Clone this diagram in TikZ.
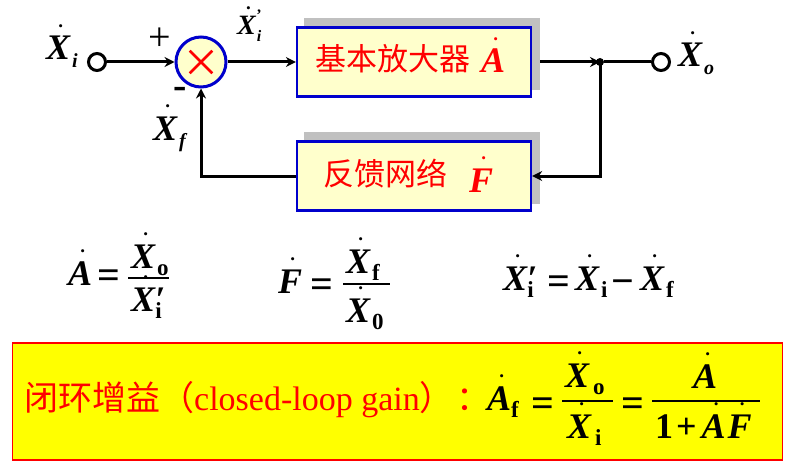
\documentclass[tikz,border=0pt]{standalone}
\usepackage{fontspec}
\setmainfont{Liberation Serif}
\newfontfamily\cjk{Noto Sans CJK SC}
\usetikzlibrary{arrows.meta, shapes.misc}
\definecolor{boxblue}{RGB}{0,0,204}
\definecolor{boxfill}{RGB}{255,255,204}
\definecolor{shadowgray}{RGB}{192,192,192}
\definecolor{gainyellow}{RGB}{255,255,0}
\definecolor{signred}{RGB}{255,0,0}

% dotted variable and lowered index
\newcommand{\dotv}[1]{\ooalign{#1\cr\hidewidth\raisebox{0.9em}{\hspace{0.14em}\fontsize{19}{19}\selectfont\upshape .}\hidewidth\cr}}
\newcommand{\subv}[1]{\raisebox{-0.22em}{\fontsize{20}{20}\selectfont #1}}
\newcommand{\subu}[1]{\raisebox{-0.2em}{\fontsize{23}{23}\selectfont\upshape #1}}
\newcommand{\primev}{\raisebox{-0.02em}{\fontsize{36}{36}\selectfont\upshape\itshape\char"2032}}

\tikzset{
  var/.style={anchor=base west, inner sep=0pt, font=\fontsize{36}{36}\selectfont\bfseries\itshape},
  smallvar/.style={var, font=\fontsize{28}{28}\selectfont\bfseries\itshape},
  redvar/.style={var, text=signred},
  eqsign/.style={anchor=base west, inner sep=0pt, font=\fontsize{40}{40}\selectfont\bfseries},
  blocklabel/.style={anchor=base west, inner sep=0pt, text=signred, font=\fontsize{31}{31}\selectfont\cjk},
  blockbox/.style={draw=boxblue, fill=boxfill, line width=2.2pt, inner sep=0pt, minimum height=69pt, minimum width=234pt},
  blockshadow/.style={fill=shadowgray, inner sep=0pt, minimum height=72pt, minimum width=236pt},
  terminal/.style={circle, draw=black, fill=white, line width=3pt, inner sep=0pt, minimum size=17pt},
  fracbar/.style={fill=black, inner sep=0pt, minimum height=2.4pt},
  wire/.style={line width=3pt, -{Stealth[length=10pt,width=10pt]}},
  plainwire/.style={line width=3pt},
}

\begin{document}
\begin{tikzpicture}[x=1pt, y=-1pt]
\useasboundingbox (0,0) rectangle (794,468);

% ── Block diagram ────────────────────────────────────────────────────────────
\node[blockshadow] (ampshadow) at (422,54) {};
\node[blockshadow] (fbshadow) at (422,167.5) {};
\node[blockbox] (ampbox) at (414,62) {};
\node[blockbox] (fbbox) at (414,176) {};
\node[blocklabel] (amptext) at (315,71) {基本放大器};
\node[redvar] (ampvar) at (481,73) {\dotv{A}};
\node[blocklabel] (fbtext) at (323,185) {反馈网络};
\node[redvar] (fbvar) at (469,192) {\dotv{F}};

\node[circle, draw=boxblue, fill=boxfill, line width=3pt, inner sep=0pt, minimum size=50pt] (sum) at (201,62) {};
\node[cross out, draw=signred, line width=2.6pt, inner sep=0pt, minimum size=20pt] (sumcross) at (201,62) {};
\node[terminal] (input) at (97,62) {};
\node[terminal] (output) at (661,62) {};
\node[circle, fill=black, inner sep=0pt, minimum size=8pt] (junction) at (600,62) {};
\coordinate (fbcorner) at (201,176);

% Connectors
\draw[wire] (input) -- (sum);
\draw[wire] (sum) -- (ampbox);
\draw[wire] (ampbox.east -| ampshadow.east) -- (junction.center);
\draw[plainwire] (junction) -- (output);
\draw[wire] (junction.center) |- (fbbox.east);
\draw[wire] (fbbox.west) -- (fbcorner) -- (sum.south);

% Signal labels
\node[var] (xi) at (46,60) {\dotv{X}\hspace{2pt}\subv{i}};
\node[smallvar] (xip) at (237,35) {\dotv{X}\hspace{1pt}\raisebox{-0.25em}{\fontsize{16}{16}\selectfont i}\hspace{-5pt}\raisebox{0.5em}{\fontsize{16}{16}\selectfont\upshape '}};
\node[var] (xf) at (153,140) {\dotv{X}\hspace{2pt}\subv{f}};
\node[var] (xo) at (678,67) {\dotv{X}\hspace{2pt}\subv{o}};
\node[anchor=center, inner sep=0pt, font=\fontsize{40}{40}\selectfont] (plus) at (160,39) {+};
\node[anchor=center, inner sep=0pt, font=\fontsize{40}{40}\selectfont\bfseries] (minus) at (180,93) {-};

% ── Definitions ──────────────────────────────────────────────────────────────
\node[var] (aleft) at (68,285) {\dotv{A}};
\node[eqsign] (aeq) at (97,288) {=};
\node[fracbar, minimum width=41pt] (abar) at (148,278) {};
\node[var] (anum) at (131,268) {\dotv{X}\hspace{2pt}\subu{o}};
\node[var] (aden) at (131,311) {\dotv{X}\primev\hspace{-10pt}\subu{i}};

\node[var] (fleft) at (278,293) {\dotv{F}};
\node[eqsign] (feq) at (310,297) {=};
\node[fracbar, minimum width=47pt] (fbar) at (366,284) {};
\node[var] (fnum) at (346,273) {\dotv{X}\hspace{2pt}\subu{f}};
\node[var] (fden) at (346,322) {\dotv{X}\hspace{2pt}\subu{0}};

\node[var] (xpleft) at (503,290) {\dotv{X}\primev\hspace{-10pt}\subu{i}};
\node[eqsign] (xpeq) at (547,294) {=};
\node[var] (xpa) at (575,290) {\dotv{X}\hspace{2pt}\subu{i}};
\node[eqsign] (xpminus) at (611,294) {−};
\node[var] (xpb) at (640,290) {\dotv{X}\hspace{2pt}\subu{f}};

% ── Closed-loop gain ─────────────────────────────────────────────────────────
\node[draw=signred, fill=gainyellow, line width=1.4pt, inner sep=0pt, minimum width=770pt, minimum height=117pt] (gainbox) at (397.5,401.5) {};
\node[anchor=base west, inner sep=0pt, text=signred, font=\fontsize{34}{34}\selectfont] (gaintext) at (24,410) {{\cjk\fontsize{34}{34}\selectfont 闭环增益（}closed-loop gain{\cjk\fontsize{34}{34}\selectfont ）\hspace{3pt}：}};

\node[var] (afleft) at (487,410) {\dotv{A}\subu{\bfseries f}};
\node[eqsign] (afeq) at (531,416) {=};
\node[fracbar, minimum width=51pt] (afbar) at (587.5,401) {};
\node[var] (afnum) at (565,387) {\dotv{X}\hspace{4pt}\subu{o}};
\node[var] (afden) at (567,438) {\dotv{X}\hspace{4pt}\subu{i}};
\node[eqsign] (afeqb) at (621,416) {=};
\node[fracbar, minimum width=108pt] (afbarb) at (706,401) {};
\node[var] (afnumb) at (693,388) {\dotv{A}};
\node[var] (afdenb) at (655,438) {\upshape 1\hspace{3pt}+\hspace{5pt}\itshape\dotv{A}\hspace{2pt}\dotv{F}};
\end{tikzpicture}
\end{document}
